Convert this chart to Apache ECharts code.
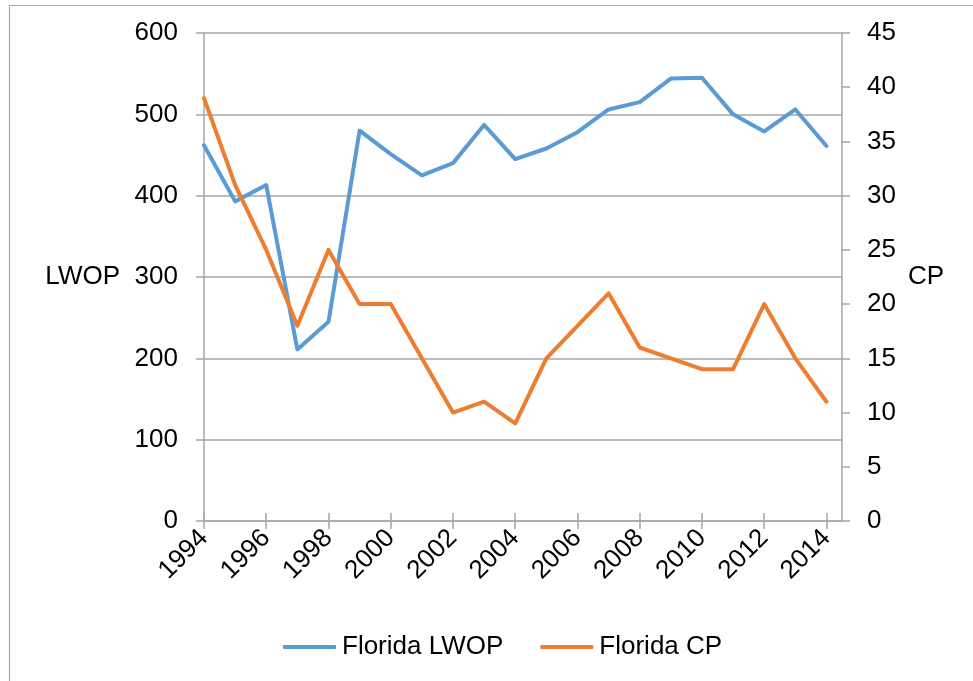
<!DOCTYPE html>
<html>
<head>
<meta charset="utf-8">
<script src="https://cdn.jsdelivr.net/npm/echarts@6/dist/echarts.min.js"></script>
<style>
html,body{margin:0;padding:0;background:#fff;}
#chart{width:973px;height:681px;}
</style>
</head>
<body>
<div id="chart"></div>
<script>
const years = [1994,1995,1996,1997,1998,1999,2000,2001,2002,2003,2004,2005,2006,2007,2008,2009,2010,2011,2012,2013,2014];
const lwop = [462,393,413,211,245,480,451,425,440,487,445,458,478,506,515,544,545,500,479,506,461];
const cp = [39,31,25,18,25,20,20,15,10,11,9,15,18,21,16,15,14,14,20,15,11];
const tickYears = [1994,1996,1998,2000,2002,2004,2006,2008,2010,2012,2014];
const leftTicks = [0,100,200,300,400,500,600];
const rightTicks = [0,5,10,15,20,25,30,35,40,45];

const FONT = 'Liberation Sans';
const GRAY = '#a6a6a6';
const chart = echarts.init(document.getElementById('chart'));

const xBase = {
  type: 'value', min: 1994, max: 2014.5, interval: 2,
  gridIndex: 0, position: 'bottom',
  splitLine: {show: false}
};

chart.setOption({
  animation: false,
  textStyle: {fontFamily: FONT},
  graphic: [{
    type: 'rect', left: 7, top: 3, silent: true,
    shape: {x: 0, y: 0, width: 990, height: 700},
    style: {fill: 'none', stroke: GRAY, lineWidth: 1.2}
  }],
  grid: {left: 204, right: 131, top: 33, bottom: 160},
  legend: {
    left: 278, top: 629,
    icon: 'roundRect',
    itemWidth: 53, itemHeight: 4, itemGap: 37,
    textStyle: {fontFamily: FONT, fontSize: 26, color: '#000', padding: [0,0,0,1]},
    data: ['Florida LWOP', 'Florida CP']
  },
  xAxis: [
    Object.assign({}, xBase, {
      axisLine: {show: true, lineStyle: {color: GRAY, width: 1.5}},
      axisTick: {show: true, length: 8, customValues: tickYears, lineStyle: {color: GRAY, width: 1.5}},
      axisLabel: {customValues: tickYears, rotate: 45, margin: 13, fontSize: 26, color: '#000', fontFamily: FONT,
        formatter: v => String(v)}
    }),
    Object.assign({}, xBase, {
      axisLine: {show: false},
      axisTick: {show: true, inside: true, length: 8, customValues: tickYears, lineStyle: {color: GRAY, width: 1.5}},
      axisLabel: {show: false}
    })
  ],
  yAxis: [
    {
      type: 'value', min: 0, max: 600, interval: 100, position: 'left',
      name: 'LWOP', nameLocation: 'middle', nameGap: 84, nameRotate: 0,
      nameTextStyle: {fontSize: 26, color: '#000', fontFamily: FONT},
      axisLine: {show: true, lineStyle: {color: GRAY, width: 1.5}},
      axisTick: {show: true, length: 8, lineStyle: {color: GRAY, width: 1.5}},
      axisLabel: {margin: 26, fontSize: 26, color: '#000', fontFamily: FONT},
      splitLine: {show: true, lineStyle: {color: GRAY, width: 1.5}}
    },
    {
      type: 'value', min: 0, max: 45, interval: 5, position: 'right',
      name: 'CP', nameLocation: 'middle', nameGap: 66, nameRotate: 0,
      nameTextStyle: {fontSize: 26, color: '#000', fontFamily: FONT},
      axisLine: {show: true, lineStyle: {color: GRAY, width: 1.5}},
      axisTick: {show: true, length: 8, lineStyle: {color: GRAY, width: 1.5}},
      axisLabel: {margin: 25, fontSize: 26, color: '#000', fontFamily: FONT},
      splitLine: {show: false}
    }
  ],
  series: [
    {
      name: 'Florida LWOP', type: 'line', xAxisIndex: 0, yAxisIndex: 0,
      symbol: 'none', color: '#5b9bd5',
      lineStyle: {width: 4, color: '#5b9bd5', cap: 'round', join: 'round'},
      data: years.map((y, i) => [y, lwop[i]])
    },
    {
      name: 'Florida CP', type: 'line', xAxisIndex: 0, yAxisIndex: 1,
      symbol: 'none', color: '#ed7d31',
      lineStyle: {width: 4, color: '#ed7d31', cap: 'round', join: 'round'},
      data: years.map((y, i) => [y, cp[i]])
    }
  ]
});
</script>
</body>
</html>
